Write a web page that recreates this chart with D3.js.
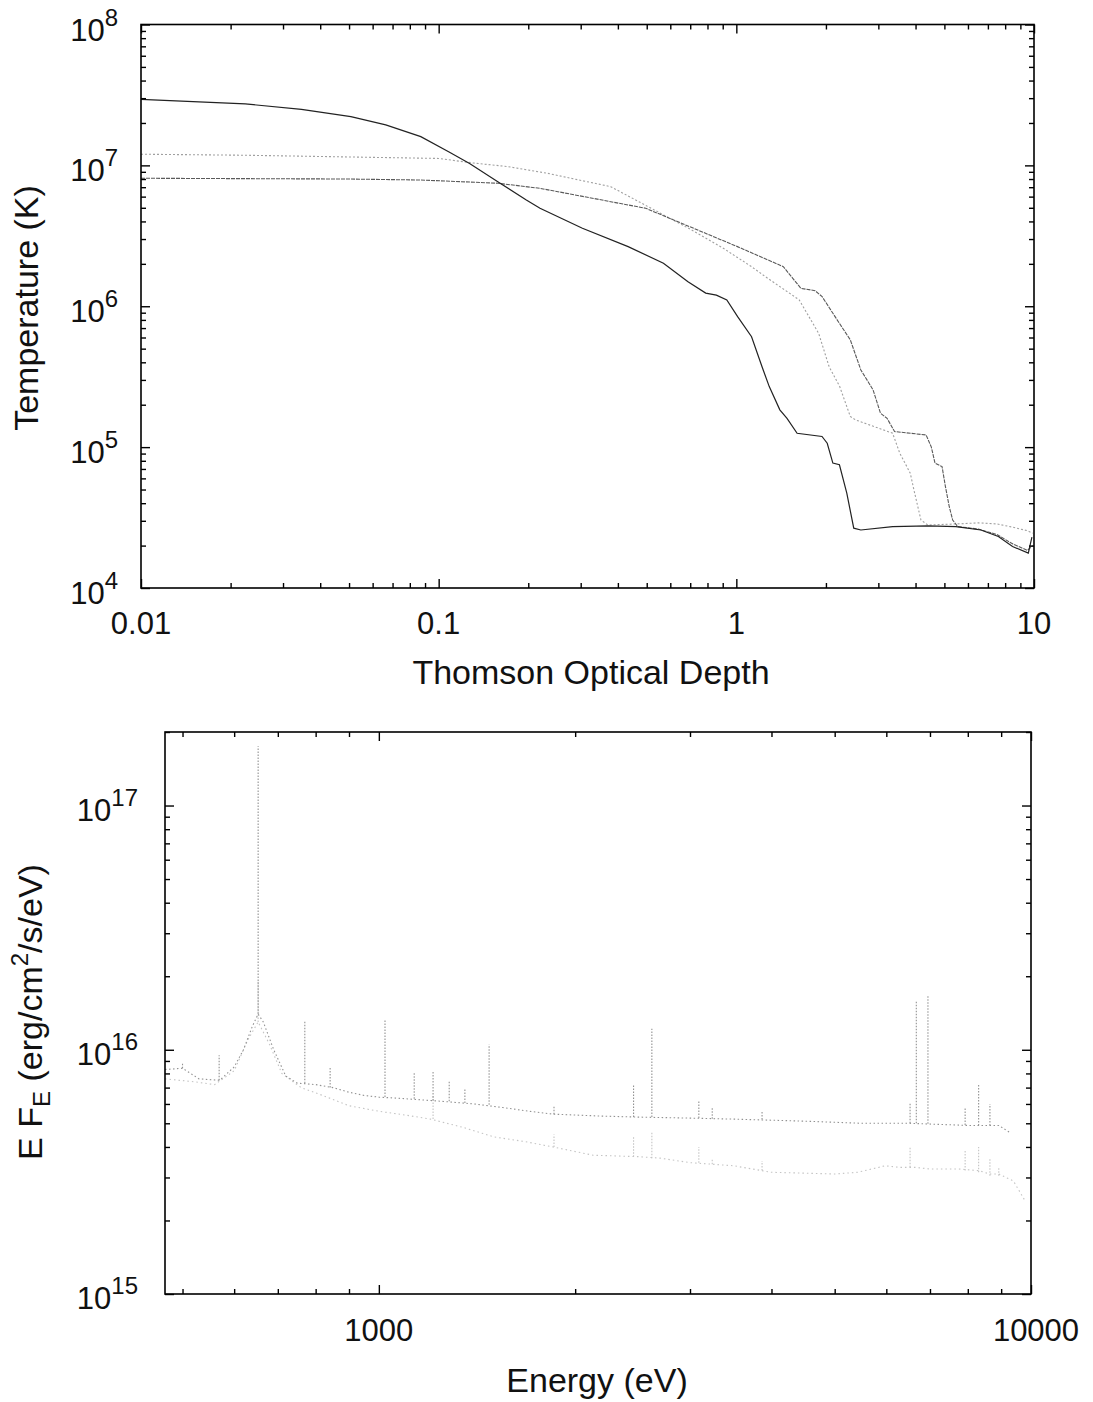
<!DOCTYPE html>
<html lang="en">
<head>
<meta charset="UTF-8">
<title>Temperature profile and spectrum</title>
<script src="https://d3js.org/d3.v7.min.js"></script>
<style>
  body { margin: 0; background: #fff; }
  text { font-family: "Liberation Sans", Arial, Helvetica, sans-serif; fill: #111; }
</style>
</head>
<body>
<script>
// ---- top panel: temperature vs Thomson depth (three runs) ----
const tauA = [0.01, 0.0224, 0.0346, 0.0507, 0.0664, 0.0871, 0.108, 0.127, 0.158, 0.197, 0.219, 0.304, 0.433, 0.569, 0.688, 0.789, 0.857, 0.929, 1.01, 1.125, 1.22, 1.29, 1.40, 1.48, 1.60, 1.94, 2.02, 2.11, 2.22, 2.35, 2.48, 2.62, 3.35, 4.40, 5.47, 6.63, 7.59, 8.47, 9.57, 9.84];
const tempA = [2.94e7, 2.73e7, 2.5e7, 2.22e7, 1.94e7, 1.6e7, 1.25e7, 1.03e7, 7.66e6, 5.68e6, 4.96e6, 3.58e6, 2.65e6, 2.02e6, 1.49e6, 1.24e6, 1.2e6, 1.11e6, 8.43e5, 6.08e5, 3.72e5, 2.69e5, 1.84e5, 1.6e5, 1.255e5, 1.19e5, 1.066e5, 7.7e4, 7.5e4, 4.71e4, 2.66e4, 2.58e4, 2.73e4, 2.76e4, 2.73e4, 2.58e4, 2.32e4, 1.97e4, 1.77e4, 2.3e4];

const tauB = [0.01, 0.05, 0.0871, 0.158, 0.219, 0.496, 1.0085, 1.438, 1.648, 1.839, 1.942, 2.165, 2.415, 2.62, 2.88, 3.05, 3.21, 3.40, 4.34, 4.52, 4.65, 4.91, 5.04, 5.19, 5.33, 5.54, 6.5, 7.5, 8.5, 9.5, 9.9];
const tempB = [8.1e6, 8.0e6, 7.87e6, 7.47e6, 6.87e6, 4.96e6, 2.65e6, 1.91e6, 1.34e6, 1.29e6, 1.17e6, 8.2e5, 5.77e5, 3.53e5, 2.55e5, 1.74e5, 1.6e5, 1.29e5, 1.22e5, 1.0e5, 7.7e4, 7.28e4, 5.25e4, 3.79e4, 3.04e4, 2.73e4, 2.62e4, 2.4e4, 2.05e4, 1.85e4, 2.0e4];

const tauC = [0.01, 0.0224, 0.0998, 0.1305, 0.171, 0.231, 0.3785, 0.708, 0.904, 1.125, 1.253, 1.626, 1.89, 2.05, 2.225, 2.415, 2.516, 3.35, 3.54, 3.84, 3.95, 4.17, 4.40, 5.5, 6.5, 7.5, 8.5, 9.5, 9.9];
const tempC = [1.2e7, 1.18e7, 1.12e7, 1.04e7, 9.8e6, 8.8e6, 7.06e6, 3.48e6, 2.58e6, 1.91e6, 1.62e6, 1.11e6, 6.43e5, 3.72e5, 2.69e5, 1.65e5, 1.56e5, 1.255e5, 9.06e4, 6.53e4, 4.97e4, 3.04e4, 2.8e4, 2.85e4, 2.9e4, 2.85e4, 2.7e4, 2.55e4, 2.45e4];

// ---- bottom panel: emergent spectra (continuum + lines) ----
const energy1 = [470, 500, 530, 570, 600, 620, 640, 653, 665, 690, 720, 750, 800, 850, 900, 950, 1000, 1100, 1250, 1400, 1550, 1700, 1850, 2200, 2500, 3000, 3500, 4500, 5500, 6500, 7200, 8000, 8925, 9260];
const flux1 = [8.3e15, 8.4e15, 7.6e15, 7.5e15, 8.5e15, 1.0e16, 1.25e16, 1.4e16, 1.3e16, 1.0e16, 7.8e15, 7.3e15, 7.2e15, 7.0e15, 6.7e15, 6.5e15, 6.4e15, 6.3e15, 6.15e15, 6.0e15, 5.8e15, 5.6e15, 5.45e15, 5.35e15, 5.3e15, 5.25e15, 5.2e15, 5.1e15, 5.0e15, 5.0e15, 4.95e15, 4.9e15, 4.9e15, 4.6e15];
const lineE1 = [500, 569, 653, 770, 842, 1022, 1133, 1211, 1282, 1355, 1476, 1856, 2458, 2622, 3095, 3245, 3869, 6525, 6670, 6950, 7925, 8312, 8650];
const lineBase1 = [8.4e15, 7.5e15, 1.4e16, 7.3e15, 7.0e15, 6.4e15, 6.3e15, 6.2e15, 6.15e15, 6.05e15, 5.95e15, 5.45e15, 5.3e15, 5.3e15, 5.25e15, 5.22e15, 5.18e15, 5.0e15, 5.0e15, 4.98e15, 4.92e15, 4.9e15, 4.9e15];
const linePeak1 = [8.8e15, 9.5e15, 1.75e17, 1.32e16, 8.5e15, 1.32e16, 8.1e15, 8.2e15, 7.4e15, 6.9e15, 1.05e16, 5.9e15, 7.2e15, 1.22e16, 6.2e15, 5.8e15, 5.6e15, 6.1e15, 1.58e16, 1.66e16, 5.8e15, 7.2e15, 6.0e15];

const energy2 = [470, 520, 560, 600, 630, 653, 680, 710, 760, 820, 900, 1000, 1100, 1200, 1350, 1500, 1680, 1850, 2130, 2500, 2700, 3000, 3500, 4000, 5000, 5420, 5980, 6290, 6650, 7000, 7750, 8312, 8650, 8925, 9400, 9800];
const flux2 = [7.6e15, 7.4e15, 7.2e15, 8.2e15, 1.1e16, 1.3e16, 1.05e16, 8.0e15, 7.0e15, 6.5e15, 5.9e15, 5.6e15, 5.4e15, 5.2e15, 4.8e15, 4.4e15, 4.2e15, 4.0e15, 3.7e15, 3.65e15, 3.6e15, 3.45e15, 3.35e15, 3.15e15, 3.1e15, 3.15e15, 3.35e15, 3.3e15, 3.3e15, 3.25e15, 3.25e15, 3.2e15, 3.1e15, 3.1e15, 2.9e15, 2.4e15];
const lineE2 = [653, 1211, 1856, 2458, 2622, 3095, 3245, 3869, 6525, 7925, 8312, 8650, 8925];
const lineBase2 = [1.3e16, 5.2e15, 4.0e15, 3.65e15, 3.6e15, 3.45e15, 3.4e15, 3.2e15, 3.3e15, 3.2e15, 3.15e15, 3.05e15, 3.05e15];
const linePeak2 = [1.9e16, 6.5e15, 4.5e15, 4.4e15, 4.6e15, 4.0e15, 3.6e15, 3.5e15, 4.0e15, 3.9e15, 4.0e15, 3.6e15, 3.3e15];

const svg = d3.select("body").append("svg")
    .attr("width", 1093)
    .attr("height", 1402);

svg.append("rect").attr("width", 1093).attr("height", 1402).attr("fill", "#fff");

function isMajor(v) {
    let l = Math.log10(v);
    return Math.abs(l - Math.round(l)) < 1e-6;
}

// box with inward ticks on all four sides
function drawFrame(x, y) {
    let [xl, xr] = x.range(), [yb, yt] = y.range();
    let xMaj = x.ticks().filter(isMajor), xMin = x.ticks().filter(v => !isMajor(v));
    let yMaj = y.ticks().filter(isMajor), yMin = y.ticks().filter(v => !isMajor(v));
    let sides = [
        [() => d3.axisBottom(x), "translate(0," + yb + ")", xMaj, xMin],
        [() => d3.axisTop(x), "translate(0," + yt + ")", xMaj, xMin],
        [() => d3.axisLeft(y), "translate(" + xl + ",0)", yMaj, yMin],
        [() => d3.axisRight(y), "translate(" + xr + ",0)", yMaj, yMin]
    ];
    sides.forEach(function (s) {
        [[s[2], -9], [s[3], -5]].forEach(function (t) {
            let g = svg.append("g").attr("transform", s[1])
                .call(s[0]().tickValues(t[0]).tickSize(t[1]).tickFormat(""));
            g.select(".domain").remove();
            g.selectAll("line").attr("stroke", "#000").attr("stroke-width", 1.4);
        });
    });
    svg.append("rect")
        .attr("x", xl).attr("y", yt)
        .attr("width", xr - xl).attr("height", yb - yt)
        .attr("fill", "none").attr("stroke", "#000").attr("stroke-width", 1.6);
}

// "10^n" style label, right aligned
function powLabel(xr, yb, exp, size, supSize, shift) {
    let t = svg.append("text").attr("x", xr).attr("y", yb)
        .attr("text-anchor", "end").attr("font-size", size);
    t.append("tspan").text("10");
    t.append("tspan").attr("font-size", supSize).attr("dy", -shift).text(exp);
}

// ---------- top panel ----------
const x1 = d3.scaleLog().domain([0.01, 10]).range([141, 1034]);
const y1 = d3.scaleLog().domain([1e4, 1e8]).range([588, 24.5]);

const line1 = d3.line().x(d => x1(d[0])).y(d => y1(d[1]));

svg.append("path").datum(d3.zip(tauC, tempC))
    .attr("d", line1).attr("fill", "none")
    .attr("stroke", "#a0a0a0").attr("stroke-width", 1.1).attr("stroke-dasharray", "2,2");
svg.append("path").datum(d3.zip(tauB, tempB))
    .attr("d", line1).attr("fill", "none")
    .attr("stroke", "#5a5a5a").attr("stroke-width", 1.1).attr("stroke-dasharray", "4,1");
svg.append("path").datum(d3.zip(tauA, tempA))
    .attr("d", line1).attr("fill", "none")
    .attr("stroke", "#222").attr("stroke-width", 1.2);

drawFrame(x1, y1);

x1.ticks().filter(isMajor).forEach(function (v) {
    svg.append("text").attr("x", x1(v)).attr("y", 634)
        .attr("text-anchor", "middle").attr("font-size", 31)
        .text(d3.format("~g")(v));
});
y1.ticks().filter(isMajor).forEach(function (v) {
    powLabel(118, y1(v) + 16, Math.round(Math.log10(v)), 31, 24, 15);
});

svg.append("text").attr("x", 591).attr("y", 684)
    .attr("text-anchor", "middle").attr("font-size", 34)
    .text("Thomson Optical Depth");
svg.append("text")
    .attr("transform", "translate(38,308) rotate(-90)")
    .attr("text-anchor", "middle").attr("font-size", 34)
    .text("Temperature (K)");

// ---------- bottom panel ----------
const x2 = d3.scaleLog().domain([470, 10000]).range([165, 1031]);
const y2 = d3.scaleLog().domain([1e15, 2e17]).range([1294, 732]);

const line2 = d3.line().x(d => x2(d[0])).y(d => y2(d[1]));

function spectrum(E, F, lE, lBase, lPeak, color, dash) {
    svg.append("path").datum(d3.zip(E, F))
        .attr("d", line2).attr("fill", "none")
        .attr("stroke", color).attr("stroke-width", 1.1).attr("stroke-dasharray", dash);
    svg.append("g").selectAll("path")
        .data(d3.zip(lE, lBase, lPeak))
        .enter().append("path")
        .attr("d", d => line2([[d[0], d[1]], [d[0], d[2]]]))
        .attr("fill", "none")
        .attr("stroke", color).attr("stroke-width", 1.1).attr("stroke-dasharray", "1.5,1.5");
}

spectrum(energy2, flux2, lineE2, lineBase2, linePeak2, "#c4c4c4", "1.5,3");
spectrum(energy1, flux1, lineE1, lineBase1, linePeak1, "#929292", "1.5,2.5");

drawFrame(x2, y2);

[1000, 10000].forEach(function (v) {
    svg.append("text").attr("x", x2(v) + (v === 10000 ? 5 : 0)).attr("y", 1341)
        .attr("text-anchor", "middle").attr("font-size", 31)
        .text(v);
});
y2.ticks().filter(isMajor).forEach(function (v) {
    powLabel(138, y2(v) + 15, Math.round(Math.log10(v)), 31, 24, 15);
});

svg.append("text").attr("x", 597).attr("y", 1392)
    .attr("text-anchor", "middle").attr("font-size", 34)
    .text("Energy (eV)");

let yl = svg.append("text")
    .attr("transform", "translate(42,1012) rotate(-90)")
    .attr("text-anchor", "middle").attr("font-size", 34);
yl.append("tspan").text("E F");
yl.append("tspan").attr("font-size", 24).attr("dy", 8).text("E");
yl.append("tspan").attr("dy", -8).text(" (erg/cm");
yl.append("tspan").attr("font-size", 24).attr("dy", -14).text("2");
yl.append("tspan").attr("dy", 14).text("/s/eV)");
</script>
</body>
</html>
